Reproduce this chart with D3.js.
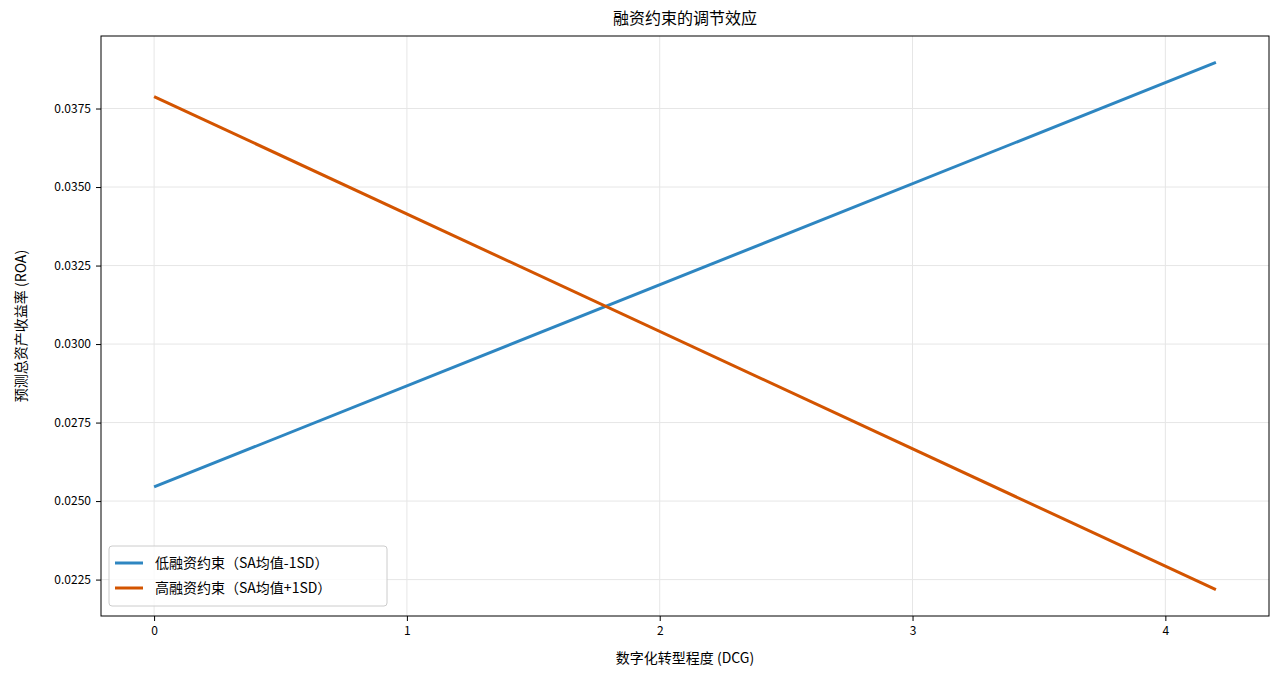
<!DOCTYPE html>
<html><head><meta charset="utf-8">
<script src="https://cdn.jsdelivr.net/npm/d3@7"></script>
<style>body{margin:0;background:#fff}text{font-family:"Noto Sans CJK SC","DejaVu Sans",sans-serif}</style>
</head><body><svg id="c" width="1280" height="673"></svg>
<script>
const xs = [0, 4.2];
const lowSeries = [0.02545, 0.03897];
const highSeries = [0.03788, 0.02218];
const seriesNames = ["低融资约束（SA均值-1SD）", "高融资约束（SA均值+1SD）"];
const seriesColors = ["#2E86C1", "#D35400"];
const xTicks = [0, 1, 2, 3, 4];
const yTicks = [0.0225, 0.0250, 0.0275, 0.0300, 0.0325, 0.0350, 0.0375];

const svg = d3.select("#c");
const L=101,R=1269,T=36,B=616;
const allY = lowSeries.concat(highSeries);
const ymin=d3.min(allY), ymax=d3.max(allY), yr=ymax-ymin;
const x = d3.scaleLinear().domain([-0.21, 4.41]).range([L,R]);
const y = d3.scaleLinear().domain([ymin-0.05*yr, ymax+0.05*yr]).range([B,T]);

const g = svg.append("g");
xTicks.forEach(t=>g.append("line").attr("x1",x(t)).attr("x2",x(t)).attr("y1",T).attr("y2",B).attr("stroke","#e6e6e6"));
yTicks.forEach(t=>g.append("line").attr("x1",L).attr("x2",R).attr("y1",y(t)).attr("y2",y(t)).attr("stroke","#e6e6e6"));

const xa = svg.append("g").attr("transform",`translate(0,${B})`).call(d3.axisBottom(x).tickValues(xTicks).tickFormat(d3.format("d")).tickSize(5).tickPadding(5));
const ya = svg.append("g").attr("transform",`translate(${L},0)`).call(d3.axisLeft(y).tickValues(yTicks).tickFormat(d3.format(".4f")).tickSize(5).tickPadding(5));
[xa,ya].forEach(a=>{a.select(".domain").remove();a.selectAll("text").attr("font-size",12).attr("fill","#000");a.selectAll("line").attr("stroke","#000");});

const line = d3.line().x((d,i)=>x(xs[i])).y(d=>y(d));
[lowSeries, highSeries].forEach((s,i)=>svg.append("path").attr("d",line(s)).attr("fill","none").attr("stroke",seriesColors[i]).attr("stroke-width",3));

svg.append("rect").attr("x",L).attr("y",T).attr("width",R-L).attr("height",B-T).attr("fill","none").attr("stroke","#000");

svg.append("text").attr("x",(L+R)/2).attr("y",24).attr("text-anchor","middle").attr("font-size",16).text("融资约束的调节效应");
svg.append("text").attr("x",(L+R)/2).attr("y",663).attr("text-anchor","middle").attr("font-size",14).text("数字化转型程度 (DCG)");
svg.append("text").attr("transform",`translate(26,${(T+B)/2}) rotate(-90)`).attr("text-anchor","middle").attr("font-size",14).text("预测总资产收益率 (ROA)");

const lg = svg.append("g").attr("transform","translate(109,546)");
lg.append("rect").attr("width",278).attr("height",60).attr("rx",3).attr("fill","#fff").attr("fill-opacity",0.8).attr("stroke","#ccc");
seriesNames.forEach((n,i)=>{
  lg.append("line").attr("x1",6).attr("x2",34).attr("y1",17+i*25).attr("y2",17+i*25).attr("stroke",seriesColors[i]).attr("stroke-width",3);
  lg.append("text").attr("x",46).attr("y",22+i*25).attr("font-size",14).text(n);
});
</script></body></html>
